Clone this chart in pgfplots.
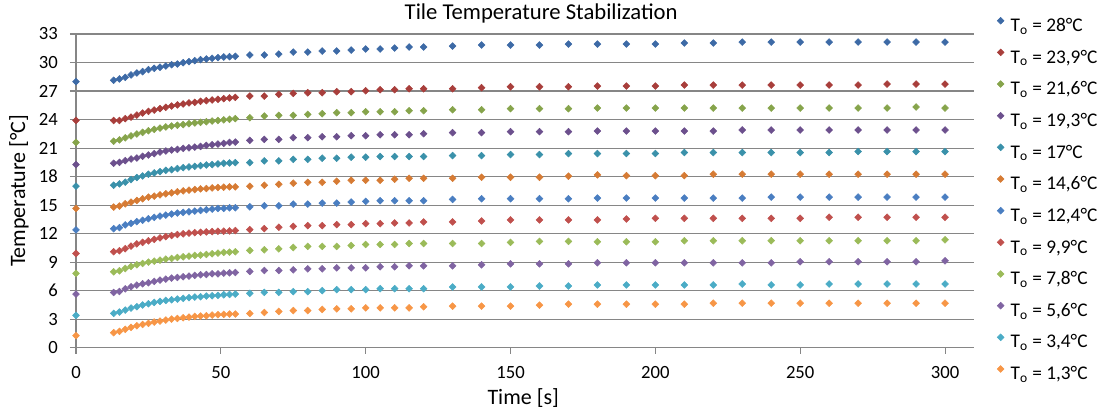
\documentclass[border=0pt]{standalone}
\usepackage{fontspec}
\setmainfont{Carlito}
\usepackage{pgfplots}
\usepackage{pgfplotstable}
\pgfplotsset{compat=1.18}

\definecolor{cA}{RGB}{61,106,166}
\definecolor{cB}{RGB}{168,62,59}
\definecolor{cC}{RGB}{134,164,75}
\definecolor{cD}{RGB}{108,80,141}
\definecolor{cE}{RGB}{58,145,170}
\definecolor{cF}{RGB}{214,123,52}
\definecolor{cG}{RGB}{74,126,193}
\definecolor{cH}{RGB}{192,80,77}
\definecolor{cI}{RGB}{155,187,89}
\definecolor{cJ}{RGB}{128,100,162}
\definecolor{cK}{RGB}{75,172,198}
\definecolor{cL}{RGB}{247,150,70}
\definecolor{gridgray}{RGB}{134,134,134}

% time [s] and tile temperature [C], one column per starting temperature
\pgfplotstableread{
t   s1    s2    s3    s4    s5    s6    s7    s8    s9    s10  s11  s12
0   27.98 23.91 21.60 19.26 16.99 14.65 12.39 9.91  7.81  5.64 3.40 1.26
13  28.13 23.90 21.72 19.40 17.09 14.79 12.52 10.10 7.98  5.81 3.61 1.58
15  28.27 23.90 21.86 19.50 17.23 14.90 12.63 10.20 8.09  5.91 3.75 1.72
17  28.44 24.09 22.08 19.67 17.41 15.14 12.91 10.41 8.33  6.19 3.96 1.93
19  28.69 24.26 22.28 19.85 17.69 15.31 13.08 10.69 8.55  6.41 4.17 2.14
21  28.90 24.47 22.48 19.95 17.90 15.49 13.26 10.92 8.72  6.58 4.31 2.31
23  29.04 24.68 22.65 20.13 18.07 15.66 13.40 11.08 8.86  6.72 4.49 2.45
25  29.25 24.86 22.82 20.27 18.25 15.84 13.57 11.24 9.00  6.83 4.62 2.56
27  29.39 25.00 22.97 20.41 18.38 15.94 13.71 11.40 9.10  6.97 4.76 2.70
29  29.50 25.15 23.10 20.58 18.52 16.08 13.85 11.55 9.21  7.11 4.87 2.80
31  29.63 25.29 23.22 20.69 18.66 16.19 13.95 11.68 9.32  7.21 4.97 2.91
33  29.77 25.42 23.32 20.79 18.73 16.29 14.06 11.80 9.39  7.32 5.04 3.01
35  29.84 25.54 23.40 20.86 18.84 16.40 14.16 11.90 9.49  7.39 5.11 3.08
37  29.98 25.64 23.47 20.97 18.94 16.50 14.23 11.98 9.56  7.46 5.19 3.15
39  30.09 25.75 23.56 21.03 19.01 16.57 14.30 12.05 9.63  7.53 5.26 3.22
41  30.19 25.81 23.64 21.10 19.08 16.64 14.37 12.10 9.70  7.60 5.33 3.29
43  30.30 25.92 23.71 21.17 19.15 16.71 14.44 12.14 9.74  7.67 5.36 3.33
45  30.37 25.99 23.77 21.28 19.22 16.74 14.51 12.18 9.81  7.70 5.43 3.36
47  30.44 26.06 23.84 21.35 19.26 16.81 14.58 12.21 9.88  7.77 5.46 3.43
49  30.51 26.13 23.90 21.42 19.33 16.85 14.65 12.25 9.95  7.77 5.50 3.47
51  30.58 26.20 23.97 21.49 19.40 16.88 14.65 12.25 10.02 7.84 5.57 3.50
53  30.61 26.27 24.03 21.59 19.43 16.92 14.72 12.28 10.05 7.88 5.60 3.54
55  30.65 26.33 24.10 21.63 19.47 16.92 14.72 12.32 10.09 7.91 5.64 3.54
60  30.79 26.47 24.19 21.81 19.47 16.98 14.82 12.42 10.23 8.02 5.72 3.60
65  30.79 26.47 24.37 21.91 19.65 17.09 14.93 12.53 10.30 8.12 5.82 3.70
70  30.89 26.65 24.44 21.91 19.65 17.19 14.93 12.67 10.40 8.12 5.82 3.81
75  31.10 26.75 24.44 22.09 19.82 17.30 15.11 12.77 10.54 8.19 5.89 3.91
80  31.10 26.82 24.54 22.09 19.82 17.40 15.11 12.84 10.65 8.30 5.89 3.91
85  31.21 26.82 24.61 22.19 19.93 17.40 15.21 12.84 10.65 8.30 6.00 4.02
90  31.21 26.93 24.72 22.19 19.93 17.51 15.21 12.95 10.65 8.40 6.11 4.09
95  31.31 26.93 24.72 22.30 20.04 17.61 15.32 12.95 10.75 8.40 6.11 4.09
100 31.42 27.03 24.82 22.30 20.04 17.61 15.39 13.05 10.86 8.40 6.11 4.19
105 31.42 27.14 24.82 22.40 20.11 17.61 15.46 13.05 10.86 8.51 6.21 4.19
110 31.52 27.14 24.82 22.40 20.11 17.72 15.46 13.12 10.86 8.51 6.21 4.19
115 31.63 27.24 24.93 22.40 20.11 17.82 15.46 13.12 10.96 8.61 6.21 4.19
120 31.63 27.24 24.93 22.51 20.11 17.82 15.46 13.23 10.96 8.61 6.21 4.30
130 31.73 27.24 25.03 22.62 20.21 17.82 15.60 13.23 10.96 8.61 6.39 4.37
140 31.84 27.35 25.03 22.62 20.21 17.93 15.67 13.33 10.96 8.72 6.39 4.37
150 31.84 27.45 25.14 22.72 20.32 17.93 15.67 13.44 11.07 8.82 6.39 4.37
160 31.84 27.45 25.14 22.72 20.32 17.93 15.67 13.44 11.18 8.82 6.49 4.47
170 31.94 27.45 25.14 22.72 20.42 18.04 15.67 13.44 11.18 8.82 6.49 4.58
180 31.94 27.52 25.21 22.79 20.42 18.18 15.74 13.44 11.14 8.93 6.60 4.58
190 31.94 27.52 25.21 22.79 20.42 18.10 15.74 13.54 11.14 8.93 6.60 4.58
200 31.94 27.52 25.21 22.79 20.42 18.10 15.74 13.61 11.14 8.93 6.60 4.58
210 32.05 27.63 25.21 22.79 20.53 18.10 15.74 13.61 11.25 8.93 6.60 4.58
220 32.05 27.63 25.21 22.79 20.53 18.25 15.74 13.61 11.25 8.93 6.60 4.68
230 32.15 27.63 25.21 22.90 20.53 18.25 15.74 13.61 11.25 8.93 6.70 4.68
240 32.15 27.63 25.21 22.90 20.53 18.25 15.84 13.61 11.25 8.93 6.60 4.68
250 32.15 27.63 25.21 22.90 20.53 18.25 15.84 13.61 11.25 9.04 6.60 4.68
260 32.15 27.63 25.21 22.90 20.53 18.25 15.84 13.72 11.25 9.04 6.70 4.68
270 32.15 27.63 25.21 22.90 20.63 18.25 15.84 13.72 11.25 9.04 6.70 4.68
280 32.15 27.73 25.21 22.90 20.63 18.25 15.84 13.72 11.25 9.04 6.70 4.68
290 32.15 27.73 25.32 22.90 20.63 18.25 15.84 13.72 11.25 9.04 6.70 4.68
300 32.15 27.73 25.21 22.90 20.63 18.25 15.84 13.72 11.35 9.14 6.70 4.68
}\tiles

\pgfplotsset{
  tile/.style={only marks, color=#1, mark=square*, mark size=1.8pt,
               mark options={rotate=45, draw=#1, fill=#1}},
}

\begin{document}
\begin{tikzpicture}
\path[use as bounding box] (0,0) rectangle (836.25pt,312pt);
\begin{axis}[
  at={(57pt,51.225pt)}, anchor=south west,
  scale only axis, width=673.5pt, height=235.275pt,
  xmin=0, xmax=310, ymin=0, ymax=33,
  xtick={0,50,...,300}, ytick={0,3,...,33},
  axis lines*=left,
  axis line style={gridgray, line width=0.8pt, -},
  tick align=outside, major tick length=4.5pt,
  tick style={gridgray, line width=0.8pt},
  ymajorgrids, grid style={gridgray, line width=0.8pt},
  /pgf/number format/assume math mode=true,
  tick label style={font=\fontsize{14}{16}\selectfont, text=black},
  yticklabel style={anchor=east, inner sep=0pt, xshift=-9pt},
  xticklabel style={anchor=north, inner sep=0pt, yshift=-9pt},
  every axis title shift=0pt,
  title={Tile Temperature Stabilization},
  title style={at={(axis description cs:0.518,1.067)}, anchor=center,
               font=\fontsize{17}{20}\selectfont},
  xlabel={Time [s]},
  xlabel style={at={(axis description cs:0.498,-0.16)}, anchor=center,
                font=\fontsize{16.5}{19}\selectfont},
  ylabel={Temperature [°C]},
  ylabel style={at={(axis description cs:-0.0635,0.5)}, anchor=center,
                font=\fontsize{16.5}{19}\selectfont},
  legend image code/.code={\draw[#1] plot coordinates {(0pt,4.5pt)};},
  legend cell align=left,
  legend style={draw=none, fill=none, inner sep=0pt,
                at={(axis description cs:1.0256,1.054)}, anchor=north west,
                row sep=10.2pt, column sep=5pt,
                font=\fontsize{14.5}{17}\selectfont,
                nodes={inner sep=0pt, text height=10pt, text depth=3pt}},
]
\addplot[tile=cA] table[x=t, y=s1]  {\tiles};
\addlegendentry{T\textsubscript{o} = 28°C}
\addplot[tile=cB] table[x=t, y=s2]  {\tiles};
\addlegendentry{T\textsubscript{o} = 23,9°C}
\addplot[tile=cC] table[x=t, y=s3]  {\tiles};
\addlegendentry{T\textsubscript{o} = 21,6°C}
\addplot[tile=cD] table[x=t, y=s4]  {\tiles};
\addlegendentry{T\textsubscript{o} = 19,3°C}
\addplot[tile=cE] table[x=t, y=s5]  {\tiles};
\addlegendentry{T\textsubscript{o} = 17°C}
\addplot[tile=cF] table[x=t, y=s6]  {\tiles};
\addlegendentry{T\textsubscript{o} = 14,6°C}
\addplot[tile=cG] table[x=t, y=s7]  {\tiles};
\addlegendentry{T\textsubscript{o} = 12,4°C}
\addplot[tile=cH] table[x=t, y=s8]  {\tiles};
\addlegendentry{T\textsubscript{o} = 9,9°C}
\addplot[tile=cI] table[x=t, y=s9]  {\tiles};
\addlegendentry{T\textsubscript{o} = 7,8°C}
\addplot[tile=cJ] table[x=t, y=s10] {\tiles};
\addlegendentry{T\textsubscript{o} = 5,6°C}
\addplot[tile=cK] table[x=t, y=s11] {\tiles};
\addlegendentry{T\textsubscript{o} = 3,4°C}
\addplot[tile=cL] table[x=t, y=s12] {\tiles};
\addlegendentry{T\textsubscript{o} = 1,3°C}
\end{axis}
\end{tikzpicture}
\end{document}
